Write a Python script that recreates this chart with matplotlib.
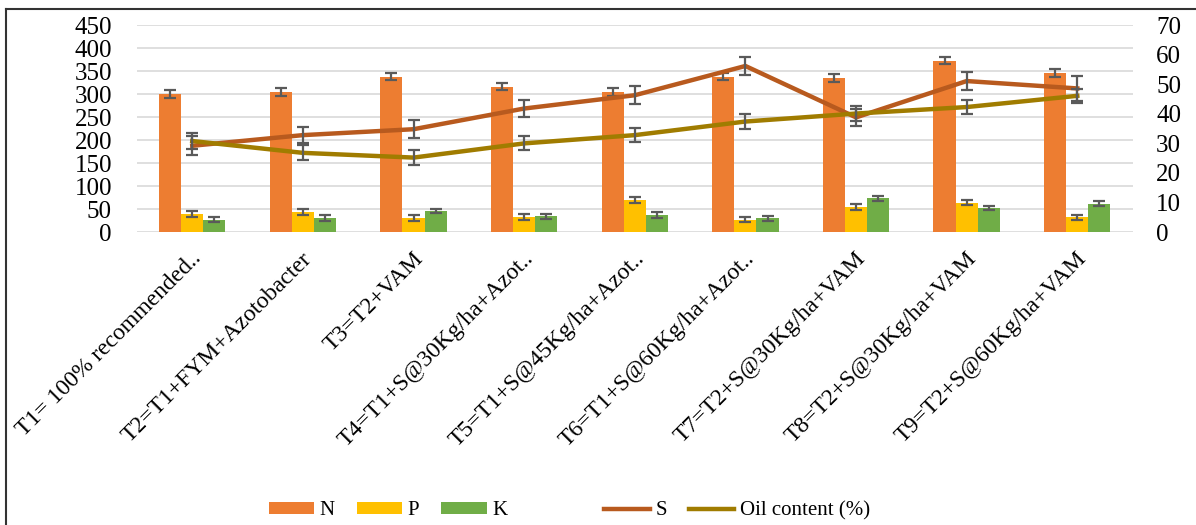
import numpy as np
import matplotlib.pyplot as plt
import matplotlib.transforms as mtransforms
from matplotlib.lines import Line2D

plt.rcParams['font.family'] = ['Liberation Serif', 'DejaVu Serif']

# Treatments
treatments = [
    "T1= 100% recommended..",
    "T2=T1+FYM+Azotobacter",
    "T3=T2+VAM",
    "T4=T1+S@30Kg/ha+Azot..",
    "T5=T1+S@45Kg/ha+Azot..",
    "T6=T1+S@60Kg/ha+Azot..",
    "T7=T2+S@30Kg/ha+VAM",
    "T8=T2+S@30Kg/ha+VAM",
    "T9=T2+S@60Kg/ha+VAM",
]

# Nutrient uptake (left axis)
n_vals = [300, 305, 338, 316, 305, 338, 335, 373, 346]
p_vals = [39, 44, 31, 33, 70, 27, 55, 64, 32]
k_vals = [27, 31, 46, 34, 37, 30, 73, 52, 62]
n_err = [8, 8, 8, 8, 8, 8, 8, 8, 8]
p_err = [6, 6, 6, 6, 6, 6, 6, 6, 6]
k_err = [6, 6, 5, 6, 6, 6, 5, 5, 6]

# S and oil content (right axis)
s_vals = [29.2, 32.8, 34.8, 41.8, 46.3, 56.2, 38.8, 51.1, 48.6]
s_err = [3.2, 2.8, 3.0, 3.0, 3.0, 3.0, 3.0, 3.0, 4.3]
oil_vals = [30.8, 26.8, 25.2, 30.0, 32.8, 37.4, 40.1, 42.3, 46.1]
oil_err = [2.6, 2.5, 2.4, 2.4, 2.4, 2.4, 2.4, 2.4, 2.4]

c_n, c_p, c_k = '#ED7D31', '#FFC000', '#70AD47'
c_s, c_oil = '#B85A1E', '#A07C00'
c_err = '#5a5a5a'

fig = plt.figure(figsize=(11.96, 5.25), dpi=100)
ax = fig.add_axes([0.1145, 0.558, 0.8325, 0.394])

x = np.arange(len(treatments))
w = 0.2
ekw = dict(ecolor=c_err, elinewidth=1.6, capsize=4, capthick=1.6)
bn = ax.bar(x - w, n_vals, w, color=c_n, yerr=n_err, error_kw=ekw, label='N', zorder=2)
bp = ax.bar(x, p_vals, w, color=c_p, yerr=p_err, error_kw=ekw, label='P', zorder=2)
bk = ax.bar(x + w, k_vals, w, color=c_k, yerr=k_err, error_kw=ekw, label='K', zorder=2)

ax.set_ylim(0, 450)
ax.set_yticks(np.arange(0, 451, 50))
ax.set_xlim(-0.5, len(treatments) - 0.5)
ax.grid(axis='y', color='#d9d9d9', linewidth=1.2, zorder=0)
ax.set_axisbelow(True)
for sp in ax.spines.values():
    sp.set_visible(False)
ax.tick_params(axis='both', length=0, labelsize=18)
ax.tick_params(axis='y', pad=18)
ax.set_xticks(x)
ax.set_xticklabels(treatments, rotation=45, ha='right', va='center',
                   rotation_mode='anchor', fontsize=17)
ax.tick_params(axis='x', pad=17)
shift = mtransforms.ScaledTranslation(4.5 / 72, 0, fig.dpi_scale_trans)
for lab in ax.get_xticklabels():
    lab.set_transform(lab.get_transform() + shift)

ax2 = ax.twinx()
ax2.set_ylim(0, 70)
ax2.set_yticks(np.arange(0, 71, 10))
for sp in ax2.spines.values():
    sp.set_visible(False)
ax2.tick_params(axis='y', length=0, labelsize=18, pad=17)

ls, = ax2.plot(x, s_vals, color=c_s, linewidth=3.2, label='S', zorder=3)
ax2.errorbar(x, s_vals, yerr=s_err, fmt='none', **ekw, zorder=4)
lo, = ax2.plot(x, oil_vals, color=c_oil, linewidth=3.2, label='Oil content (%)', zorder=3)
ax2.errorbar(x, oil_vals, yerr=oil_err, fmt='none', **ekw, zorder=4)

leg_kw = dict(loc='center', ncol=3, frameon=False, fontsize=15, handlelength=2.2,
              handleheight=0.55, columnspacing=1.05, handletextpad=0.25)
fig.legend(handles=[bn, bp, bk], labels=['N', 'P', 'K'],
           bbox_to_anchor=(388 / 1196, 0.027), **leg_kw)
fig.legend(handles=[ls, lo], labels=['S', 'Oil content (%)'],
           bbox_to_anchor=(737 / 1196, 0.027), **leg_kw)

# outer frame (top and left edges)
fig.add_artist(Line2D([0.005, 0.005], [0, 0.983], color='#333333', linewidth=1.5, transform=fig.transFigure))
fig.add_artist(Line2D([0.005, 1.0], [0.983, 0.983], color='#333333', linewidth=1.5, transform=fig.transFigure))

fig.savefig('out.png', dpi=100)
